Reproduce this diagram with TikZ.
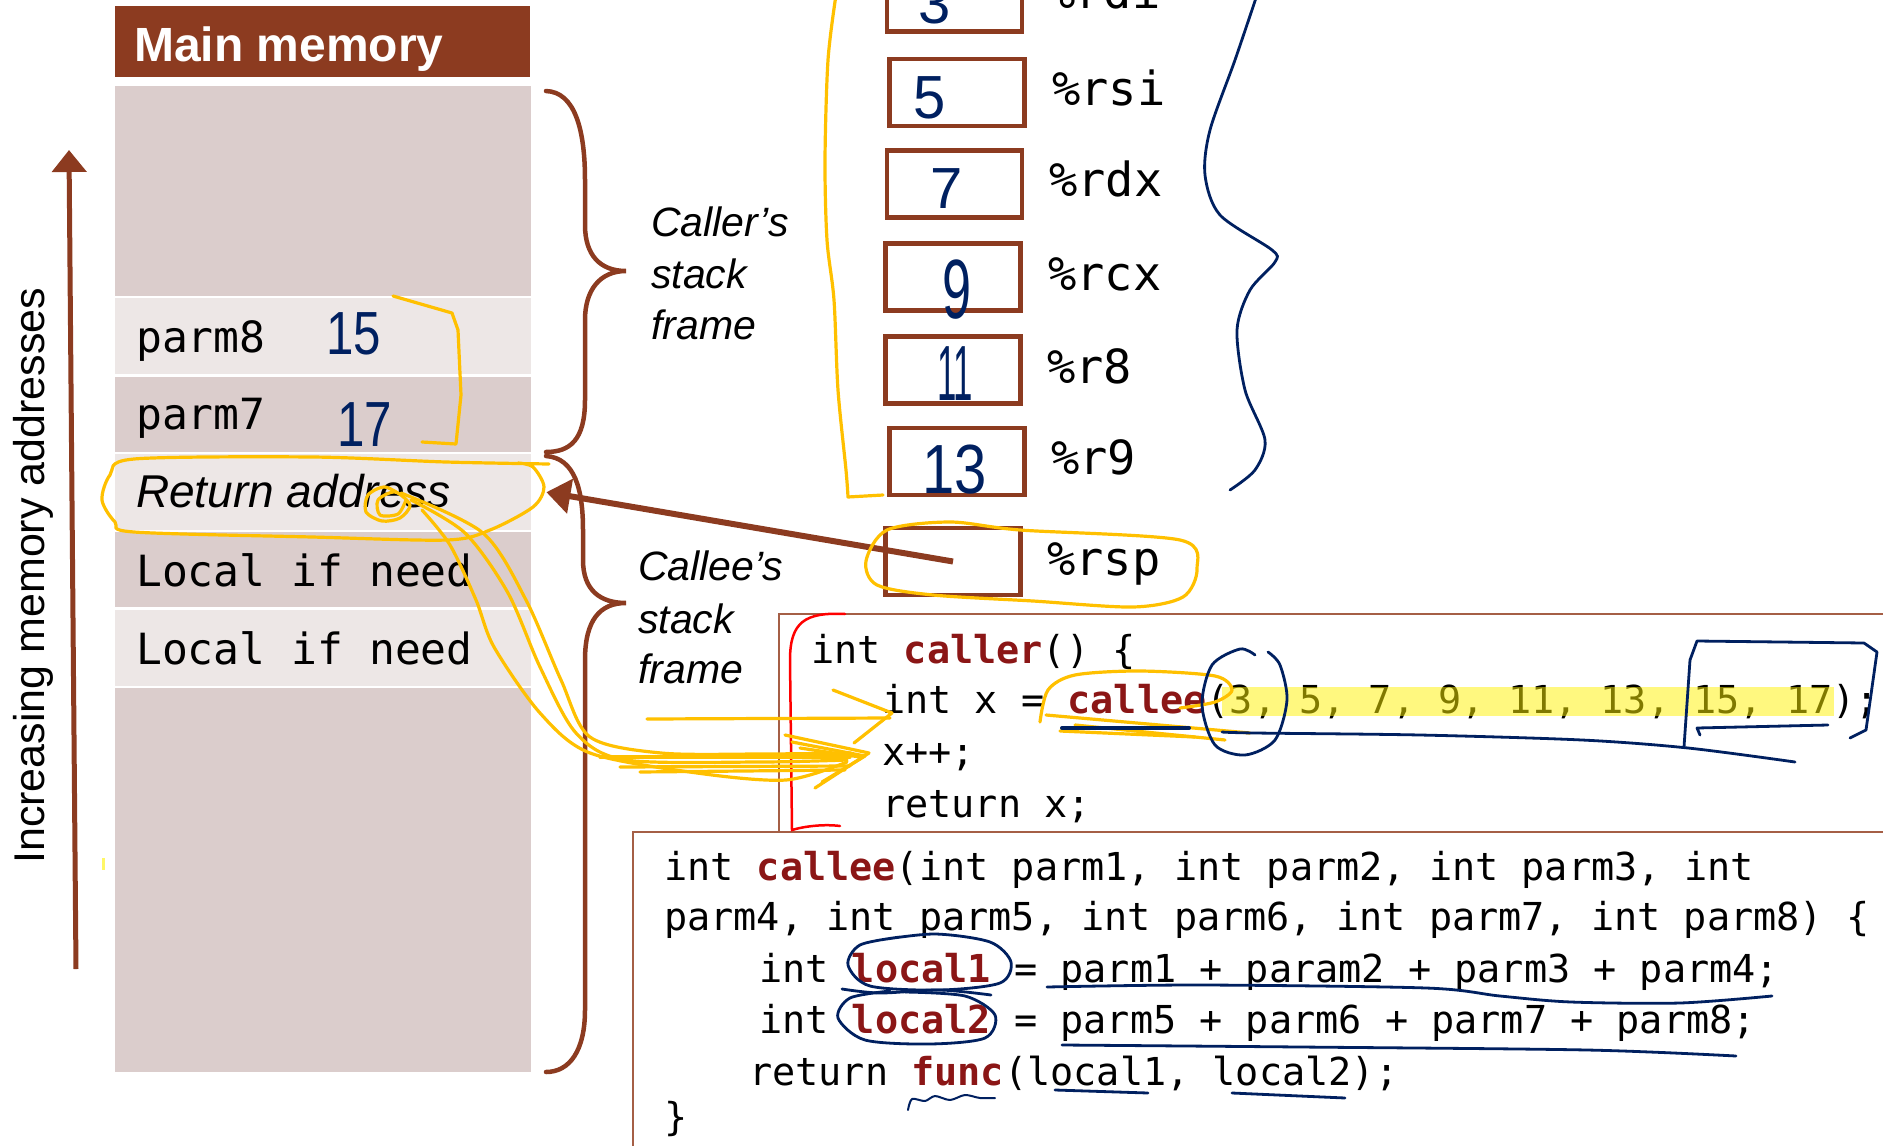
\documentclass[tikz,border=0pt]{standalone}
\usepackage{fontspec}
\setmainfont{Liberation Sans}
\newfontfamily\monofam{DejaVu Sans Mono}
\usetikzlibrary{arrows.meta}
\definecolor{memBrown}{RGB}{140,59,32}
\definecolor{rowDark}{RGB}{219,205,204}
\definecolor{rowLight}{RGB}{237,231,230}
\definecolor{penYellow}{RGB}{255,192,0}
\definecolor{penNavy}{RGB}{0,32,96}
\definecolor{codeRed}{RGB}{139,22,22}
\definecolor{boxBrown}{RGB}{165,95,70}
\newcommand\setfs[1]{\fontsize{#1}{#1}\selectfont}
\newcommand\kw[1]{{\color{codeRed}\bfseries #1}}
\tikzset{
  txt/.style={inner sep=0pt, anchor=base west},
  memrow/.style={inner sep=0pt, anchor=north west, minimum width=416pt, draw=none},
  darkrow/.style={memrow, fill=rowDark},
  lightrow/.style={memrow, fill=rowLight},
  regbox/.style={draw=memBrown, line width=4.5pt, minimum width=135pt, minimum height=67pt, inner sep=0pt},
  reglabel/.style={txt, font=\monofam\setfs{47}},
  cellfont/.style={txt, font=\monofam\setfs{43}},
  codefont/.style={txt, font=\monofam\setfs{38.5}},
  framefont/.style={txt, font=\itshape\setfs{41}},
  digit/.style={txt, font=\setfs{58}, text=penNavy},
  codebox/.style={draw=boxBrown, line width=1.8pt, fill=white, anchor=north west, inner sep=0pt},
  bracepen/.style={draw=memBrown, line width=4.5pt, line cap=round},
  ypen/.style={draw=penYellow, line width=3.2pt, line cap=round, line join=round},
  npen/.style={draw=penNavy, line width=2.8pt, line cap=round, line join=round},
}
\begin{document}
\begin{tikzpicture}[x=1pt, y=-1pt]
\useasboundingbox (0,0) rectangle (1883,1146);
\clip (0,0) rectangle (1883,1146);

% ---------- main memory column ----------
\node[memrow, fill=memBrown, minimum width=415pt, minimum height=71pt] (head) at (115,6) {};
\node[txt, font=\bfseries\setfs{48}, text=white] (headtxt) at (134,61) {Main memory};
\node[darkrow,  minimum height=210pt] (row0) at (115,86)  {};
\node[lightrow, minimum height=76pt]  (row1) at (115,298) {};
\node[darkrow,  minimum height=75pt]  (row2) at (115,377) {};
\node[lightrow, minimum height=76pt]  (retrow) at (115,454) {};
\node[darkrow,  minimum height=75pt]  (row4) at (115,532) {};
\node[lightrow, minimum height=76pt]  (row5) at (115,610) {};
\node[darkrow,  minimum height=384pt] (row6) at (115,688) {};

\node[cellfont] (p8) at (136,352) {parm8};
\node[cellfont] (p7) at (136,429) {parm7};
\node[txt, font=\itshape\setfs{46}] (rettxt) at (136,507) {Return address};
\node[cellfont] (loc1) at (136,586) {Local if need};
\node[cellfont] (loc2) at (136,664) {Local if need};

\node[digit, xscale=0.85, yscale=1.05] (d15) at (326,354) {15};
\node[digit, xscale=0.85, yscale=1.1] (d17) at (337,446) {17};

% address direction
\coordinate (addrlow) at (76,969);
\coordinate (addrhigh) at (69,150);
\draw[memBrown, line width=5pt, -{Triangle[width=34pt,length=22pt]}] (addrlow) -- (addrhigh);
\node[txt, rotate=90, font=\setfs{43}] (incr) at (44,864) {Increasing memory addresses};
\draw[yellow!60, line width=3pt] (103,858) -- (103,870);

% frame braces
\draw[bracepen] (546,91) .. controls (575,92) and (585,130) .. (585,180) -- (585,225)
  .. controls (585,255) and (600,271) .. (626,271)
  .. controls (600,271) and (585,290) .. (585,320) -- (585,400)
  .. controls (585,440) and (570,452) .. (546,452);
\draw[bracepen] (546,456) .. controls (575,458) and (583,490) .. (583,530) -- (583,560)
  .. controls (583,590) and (600,603) .. (626,603)
  .. controls (600,603) and (585,620) .. (585,660) -- (585,1010)
  .. controls (585,1050) and (570,1072) .. (546,1072);
\node[framefont] (cr1) at (651,236) {Caller’s};
\node[framefont] (cr2) at (651,288) {stack};
\node[framefont] (cr3) at (651,339) {frame};
\node[framefont] (ce1) at (638,580) {Callee’s};
\node[framefont] (ce2) at (638,633) {stack};
\node[framefont] (ce3) at (638,683) {frame};

% ---------- registers ----------
\node[regbox] (rdi) at (954.5,-2)  {};
\node[regbox] (rsi) at (957,92.5)  {};
\node[regbox] (rdx) at (954.5,184) {};
\node[regbox] (rcx) at (953,277)   {};
\node[regbox] (r8)  at (953,370)   {};
\node[regbox] (r9)  at (957,461.5) {};
\node[regbox] (rsp) at (953,561.5) {};
\node[reglabel] (lrdi) at (1047,8)   {\%rdi};
\node[reglabel] (lrsi) at (1052,105) {\%rsi};
\node[reglabel] (lrdx) at (1049,196) {\%rdx};
\node[reglabel] (lrcx) at (1048,290) {\%rcx};
\node[reglabel] (lr8)  at (1047,383) {\%r8};
\node[reglabel] (lr9)  at (1051,474) {\%r9};
\node[reglabel] (lrsp) at (1047,575) {\%rsp};

\node[digit] (v3)  at (918,23)  {3};
\node[digit, yscale=1.05] (v5)  at (913,118) {5};
\node[digit] (v7)  at (930,208) {7};
\node[digit, xscale=0.9, yscale=1.45] (v9)  at (942,318) {9};
\node[digit, xscale=0.6, yscale=1.35] (v11) at (937,400) {11};
\node[digit, yscale=1.2] (v13) at (922,493) {13};

% stack pointer
\draw[memBrown, line width=6pt, -{Triangle[width=34pt,length=24pt]}] (rsp.center) -- ([xshift=15pt]retrow.east);

% ---------- code boxes ----------
\node[codebox, minimum width=1200pt, minimum height=260pt] (callerbox) at (778,613) {};
\node[codebox, minimum width=1300pt, minimum height=360pt] (calleebox) at (632,831) {};

\node[codefont] (c1) at (811,663) {int \kw{caller}() \{};
\node[codefont] (c2) at (882,713) {int x = \kw{callee}(3, 5, 7, 9, 11, 13, 15, 17);};
\node[codefont] (c3) at (882,765) {x++;};
\node[codefont] (c4) at (882,817) {return x;};
\fill[yellow, opacity=0.5] (1222,687) rectangle (1834,716);

\node[codefont] (e1) at (664,880)  {int \kw{callee}(int parm1, int parm2, int parm3, int};
\node[codefont] (e2) at (664,930)  {parm4, int parm5, int parm6, int parm7, int parm8) \{};
\node[codefont] (e3) at (759,982)  {int \kw{local1} = parm1 + param2 + parm3 + parm4;};
\node[codefont] (e4) at (759,1033) {int \kw{local2} = parm5 + parm6 + parm7 + parm8;};
\node[codefont] (e5) at (749,1085) {return \kw{func}(local1, local2);};
\node[codefont] (e6) at (664,1130) {\}};

% red marker around the caller body
\draw[red, line width=2.5pt, line cap=round] (845,614) .. controls (805,612) and (790,622) .. (790,660)
  -- (792,830) .. controls (805,826) and (825,824) .. (840,826);

% ---------- yellow pen ----------
\draw[ypen] (393,296) -- (452,313) -- (458,330) -- (461,395) -- (456,444) -- (422,442);
\draw[ypen] plot[smooth] coordinates {(836,-5) (828,60) (825,160) (827,240) (834,300) (838,390) (846,470) (848,497)} -- (883,495);
\draw[ypen] plot[smooth cycle] coordinates {(866,561) (887,530) (950,522) (1020,530) (1180,540) (1197,569) (1183,597) (1133,607) (1033,601) (933,595) (877,585)};
\draw[ypen] plot[smooth] coordinates {(549,464) (446,462) (312,457) (134,459) (110,475) (102,500) (115,522) (134,532) (312,537) (447,540) (490,530) (533,507) (544,487) (533,467) (518,463)};
\draw[ypen] plot[smooth] coordinates {(404,497) (385,487) (368,495) (366,512) (382,521) (400,518) (410,505) (395,492) (378,500) (380,515) (398,514) (406,500)};
\draw[ypen] plot[smooth] coordinates {(422,510) (450,545) (476,600) (494,647) (540,713) (590,753) (697,773) (786,780) (847,762)};
\draw[ypen] plot[smooth] coordinates {(411,500) (465,533) (508,593) (540,667) (576,733) (626,760) (760,762) (847,760)};
\draw[ypen] plot[smooth] coordinates {(401,493) (483,533) (526,600) (561,680) (590,737) (661,753) (760,754) (851,753)};
\draw[ypen] (600,757) -- (850,757);
\draw[ypen] (620,767) -- (850,766);
\draw[ypen] (640,772) -- (845,770);
\draw[ypen] (785,735) -- (869,753) -- (815,788);
\draw[ypen] (792,742) -- (865,756) -- (822,782);
\draw[ypen] (800,748) -- (860,757);
\coordinate (intxtail) at (647,719);
\coordinate (intxhead) at (892,713);
\draw[ypen] (intxtail) -- (890,718);
\draw[ypen] (833,690) -- (intxhead) -- (854,743);
\draw[ypen] plot[smooth] coordinates {(1040,722) (1048,690) (1075,675) (1140,671) (1215,676) (1232,690) (1215,702) (1180,708)};
\draw[ypen] (1046,715) -- (1250,733);
\draw[ypen] (1075,725) -- (1225,740);
\draw[ypen] (1060,731) -- (1195,737);

% ---------- navy pen ----------
\draw[npen] plot[smooth] coordinates {(1257,-5) (1235,60) (1210,130) (1205,175) (1220,215) (1272,250) (1275,262) (1250,290) (1237,330) (1245,390) (1265,440) (1255,470) (1230,490)};
\draw[npen, line width=4pt] (1062,728) -- (1189,728);
\draw[npen] plot[smooth] coordinates {(1255,655) (1240,649) (1212,665) (1202,705) (1215,745) (1245,755) (1275,740) (1287,700) (1280,665) (1268,652)};
\draw[npen] plot[smooth] coordinates {(1222,732) (1255,733) (1420,735) (1582,740) (1688,748) (1795,762)};
\draw[npen] (1684,747) -- (1690,660) -- (1697,641) -- (1864,643) -- (1877,652) -- (1866,730) -- (1850,738);
\draw[npen] (1700,735) -- (1697,728) -- (1828,725);
\draw[npen] plot[smooth] coordinates {(880,940) (935,934) (990,942) (1011,962) (1000,983) (940,990) (870,986) (848,965) (860,945) (900,937)};
\draw[npen] plot[smooth] coordinates {(842,989) (880,993) (940,990) (991,995)};
\draw[npen] plot[smooth] coordinates {(905,992) (965,996) (995,1015) (985,1038) (930,1044) (865,1040) (838,1018) (850,998) (890,991)};
\draw[npen] plot[smooth] coordinates {(1047,987) (1200,985) (1426,988) (1500,996) (1571,1002) (1680,1003) (1772,996)};
\draw[npen] plot[smooth] coordinates {(1062,1045) (1300,1047) (1587,1050) (1736,1056)};
\draw[npen] (1055,1090) -- (1148,1093);
\draw[npen] (1232,1093) -- (1345,1098);
\draw[npen, line width=2pt] plot[smooth] coordinates {(908,1110) (912,1099) (925,1101) (935,1096) (950,1100) (965,1095) (980,1098) (995,1098)};
\end{tikzpicture}
\end{document}
